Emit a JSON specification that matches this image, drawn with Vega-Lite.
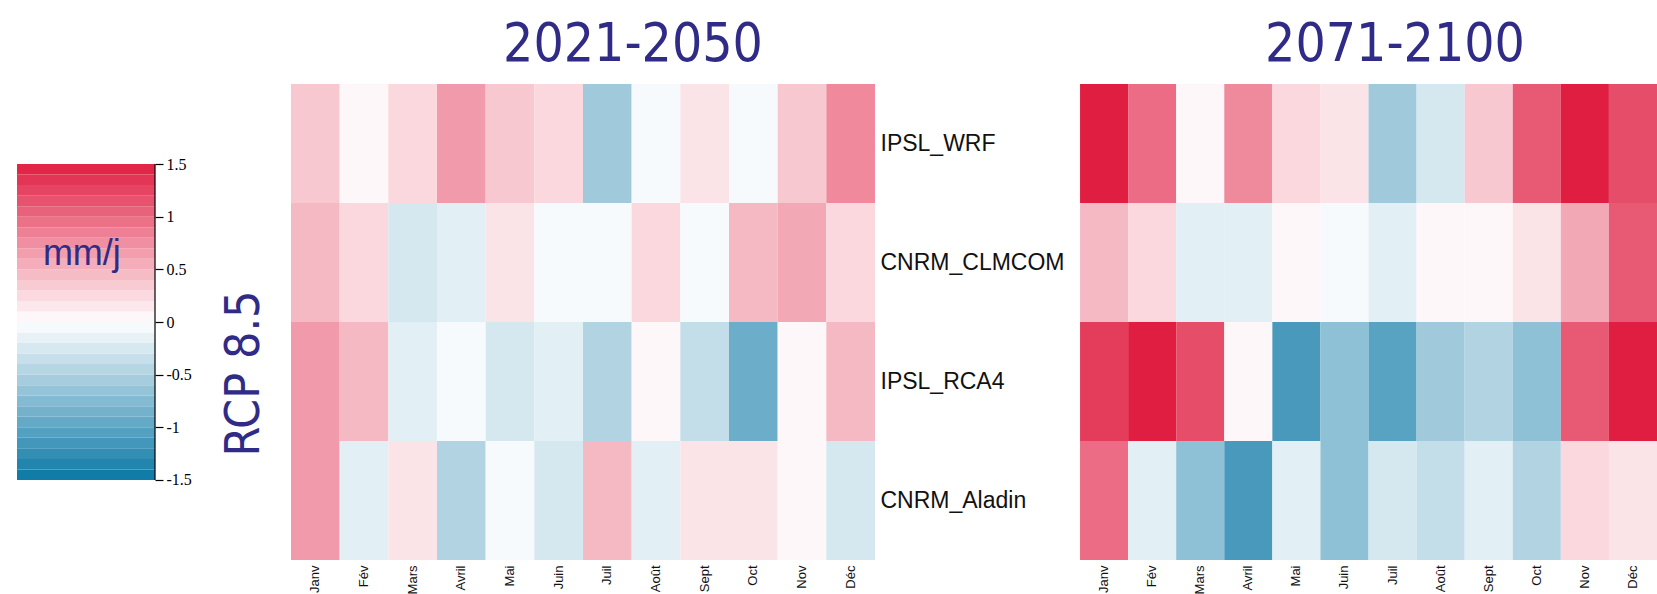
{
  "$schema": "https://vega.github.io/schema/vega-lite/v6.json",
  "autosize": {"type": "pad"},
  "padding": {"left": 17, "top": 19, "right": 0, "bottom": 0},
  "background": "#ffffff",
  "bounds": "flush",
  "spacing": 136,
  "datasets": {
    "bands": [
      {"lo": -1.5, "hi": -1.4, "mid": -1.45}, {"lo": -1.4, "hi": -1.3, "mid": -1.35}, {"lo": -1.3, "hi": -1.2, "mid": -1.25},
      {"lo": -1.2, "hi": -1.1, "mid": -1.15}, {"lo": -1.1, "hi": -1.0, "mid": -1.05}, {"lo": -1.0, "hi": -0.9, "mid": -0.95},
      {"lo": -0.9, "hi": -0.8, "mid": -0.85}, {"lo": -0.8, "hi": -0.7, "mid": -0.75}, {"lo": -0.7, "hi": -0.6, "mid": -0.65},
      {"lo": -0.6, "hi": -0.5, "mid": -0.55}, {"lo": -0.5, "hi": -0.4, "mid": -0.45}, {"lo": -0.4, "hi": -0.3, "mid": -0.35},
      {"lo": -0.3, "hi": -0.2, "mid": -0.25}, {"lo": -0.2, "hi": -0.1, "mid": -0.15}, {"lo": -0.1, "hi": 0.0, "mid": -0.05},
      {"lo": 0.0, "hi": 0.1, "mid": 0.05}, {"lo": 0.1, "hi": 0.2, "mid": 0.15}, {"lo": 0.2, "hi": 0.3, "mid": 0.25},
      {"lo": 0.3, "hi": 0.4, "mid": 0.35}, {"lo": 0.4, "hi": 0.5, "mid": 0.45}, {"lo": 0.5, "hi": 0.6, "mid": 0.55},
      {"lo": 0.6, "hi": 0.7, "mid": 0.65}, {"lo": 0.7, "hi": 0.8, "mid": 0.75}, {"lo": 0.8, "hi": 0.9, "mid": 0.85},
      {"lo": 0.9, "hi": 1.0, "mid": 0.95}, {"lo": 1.0, "hi": 1.1, "mid": 1.05}, {"lo": 1.1, "hi": 1.2, "mid": 1.15},
      {"lo": 1.2, "hi": 1.3, "mid": 1.25}, {"lo": 1.3, "hi": 1.4, "mid": 1.35}, {"lo": 1.4, "hi": 1.5, "mid": 1.45}
    ],
    "cells": [
      {"period": "2021-2050", "model": "IPSL_WRF", "month": "Janv", "value": 0.37},
      {"period": "2021-2050", "model": "IPSL_WRF", "month": "Fév", "value": 0.05},
      {"period": "2021-2050", "model": "IPSL_WRF", "month": "Mars", "value": 0.26},
      {"period": "2021-2050", "model": "IPSL_WRF", "month": "Avril", "value": 0.67},
      {"period": "2021-2050", "model": "IPSL_WRF", "month": "Mai", "value": 0.37},
      {"period": "2021-2050", "model": "IPSL_WRF", "month": "Juin", "value": 0.26},
      {"period": "2021-2050", "model": "IPSL_WRF", "month": "Juil", "value": -0.58},
      {"period": "2021-2050", "model": "IPSL_WRF", "month": "Août", "value": -0.05},
      {"period": "2021-2050", "model": "IPSL_WRF", "month": "Sept", "value": 0.18},
      {"period": "2021-2050", "model": "IPSL_WRF", "month": "Oct", "value": -0.05},
      {"period": "2021-2050", "model": "IPSL_WRF", "month": "Nov", "value": 0.37},
      {"period": "2021-2050", "model": "IPSL_WRF", "month": "Déc", "value": 0.79},
      {"period": "2021-2050", "model": "CNRM_CLMCOM", "month": "Janv", "value": 0.47},
      {"period": "2021-2050", "model": "CNRM_CLMCOM", "month": "Fév", "value": 0.26},
      {"period": "2021-2050", "model": "CNRM_CLMCOM", "month": "Mars", "value": -0.26},
      {"period": "2021-2050", "model": "CNRM_CLMCOM", "month": "Avril", "value": -0.18},
      {"period": "2021-2050", "model": "CNRM_CLMCOM", "month": "Mai", "value": 0.18},
      {"period": "2021-2050", "model": "CNRM_CLMCOM", "month": "Juin", "value": -0.05},
      {"period": "2021-2050", "model": "CNRM_CLMCOM", "month": "Juil", "value": -0.05},
      {"period": "2021-2050", "model": "CNRM_CLMCOM", "month": "Août", "value": 0.26},
      {"period": "2021-2050", "model": "CNRM_CLMCOM", "month": "Sept", "value": -0.05},
      {"period": "2021-2050", "model": "CNRM_CLMCOM", "month": "Oct", "value": 0.47},
      {"period": "2021-2050", "model": "CNRM_CLMCOM", "month": "Nov", "value": 0.58},
      {"period": "2021-2050", "model": "CNRM_CLMCOM", "month": "Déc", "value": 0.26},
      {"period": "2021-2050", "model": "IPSL_RCA4", "month": "Janv", "value": 0.67},
      {"period": "2021-2050", "model": "IPSL_RCA4", "month": "Fév", "value": 0.47},
      {"period": "2021-2050", "model": "IPSL_RCA4", "month": "Mars", "value": -0.18},
      {"period": "2021-2050", "model": "IPSL_RCA4", "month": "Avril", "value": -0.05},
      {"period": "2021-2050", "model": "IPSL_RCA4", "month": "Mai", "value": -0.26},
      {"period": "2021-2050", "model": "IPSL_RCA4", "month": "Juin", "value": -0.18},
      {"period": "2021-2050", "model": "IPSL_RCA4", "month": "Juil", "value": -0.48},
      {"period": "2021-2050", "model": "IPSL_RCA4", "month": "Août", "value": 0.05},
      {"period": "2021-2050", "model": "IPSL_RCA4", "month": "Sept", "value": -0.37},
      {"period": "2021-2050", "model": "IPSL_RCA4", "month": "Oct", "value": -0.9},
      {"period": "2021-2050", "model": "IPSL_RCA4", "month": "Nov", "value": 0.05},
      {"period": "2021-2050", "model": "IPSL_RCA4", "month": "Déc", "value": 0.47},
      {"period": "2021-2050", "model": "CNRM_Aladin", "month": "Janv", "value": 0.67},
      {"period": "2021-2050", "model": "CNRM_Aladin", "month": "Fév", "value": -0.18},
      {"period": "2021-2050", "model": "CNRM_Aladin", "month": "Mars", "value": 0.18},
      {"period": "2021-2050", "model": "CNRM_Aladin", "month": "Avril", "value": -0.48},
      {"period": "2021-2050", "model": "CNRM_Aladin", "month": "Mai", "value": -0.05},
      {"period": "2021-2050", "model": "CNRM_Aladin", "month": "Juin", "value": -0.26},
      {"period": "2021-2050", "model": "CNRM_Aladin", "month": "Juil", "value": 0.47},
      {"period": "2021-2050", "model": "CNRM_Aladin", "month": "Août", "value": -0.18},
      {"period": "2021-2050", "model": "CNRM_Aladin", "month": "Sept", "value": 0.18},
      {"period": "2021-2050", "model": "CNRM_Aladin", "month": "Oct", "value": 0.18},
      {"period": "2021-2050", "model": "CNRM_Aladin", "month": "Nov", "value": 0.05},
      {"period": "2021-2050", "model": "CNRM_Aladin", "month": "Déc", "value": -0.26},
      {"period": "2071-2100", "model": "IPSL_WRF", "month": "Janv", "value": 1.5},
      {"period": "2071-2100", "model": "IPSL_WRF", "month": "Fév", "value": 0.98},
      {"period": "2071-2100", "model": "IPSL_WRF", "month": "Mars", "value": 0.05},
      {"period": "2071-2100", "model": "IPSL_WRF", "month": "Avril", "value": 0.78},
      {"period": "2071-2100", "model": "IPSL_WRF", "month": "Mai", "value": 0.26},
      {"period": "2071-2100", "model": "IPSL_WRF", "month": "Juin", "value": 0.18},
      {"period": "2071-2100", "model": "IPSL_WRF", "month": "Juil", "value": -0.58},
      {"period": "2071-2100", "model": "IPSL_WRF", "month": "Août", "value": -0.26},
      {"period": "2071-2100", "model": "IPSL_WRF", "month": "Sept", "value": 0.37},
      {"period": "2071-2100", "model": "IPSL_WRF", "month": "Oct", "value": 1.1},
      {"period": "2071-2100", "model": "IPSL_WRF", "month": "Nov", "value": 1.5},
      {"period": "2071-2100", "model": "IPSL_WRF", "month": "Déc", "value": 1.19},
      {"period": "2071-2100", "model": "CNRM_CLMCOM", "month": "Janv", "value": 0.47},
      {"period": "2071-2100", "model": "CNRM_CLMCOM", "month": "Fév", "value": 0.26},
      {"period": "2071-2100", "model": "CNRM_CLMCOM", "month": "Mars", "value": -0.18},
      {"period": "2071-2100", "model": "CNRM_CLMCOM", "month": "Avril", "value": -0.18},
      {"period": "2071-2100", "model": "CNRM_CLMCOM", "month": "Mai", "value": 0.05},
      {"period": "2071-2100", "model": "CNRM_CLMCOM", "month": "Juin", "value": -0.05},
      {"period": "2071-2100", "model": "CNRM_CLMCOM", "month": "Juil", "value": -0.18},
      {"period": "2071-2100", "model": "CNRM_CLMCOM", "month": "Août", "value": 0.05},
      {"period": "2071-2100", "model": "CNRM_CLMCOM", "month": "Sept", "value": 0.05},
      {"period": "2071-2100", "model": "CNRM_CLMCOM", "month": "Oct", "value": 0.18},
      {"period": "2071-2100", "model": "CNRM_CLMCOM", "month": "Nov", "value": 0.58},
      {"period": "2071-2100", "model": "CNRM_CLMCOM", "month": "Déc", "value": 1.1},
      {"period": "2071-2100", "model": "IPSL_RCA4", "month": "Janv", "value": 1.3},
      {"period": "2071-2100", "model": "IPSL_RCA4", "month": "Fév", "value": 1.5},
      {"period": "2071-2100", "model": "IPSL_RCA4", "month": "Mars", "value": 1.19},
      {"period": "2071-2100", "model": "IPSL_RCA4", "month": "Avril", "value": 0.05},
      {"period": "2071-2100", "model": "IPSL_RCA4", "month": "Mai", "value": -1.12},
      {"period": "2071-2100", "model": "IPSL_RCA4", "month": "Juin", "value": -0.69},
      {"period": "2071-2100", "model": "IPSL_RCA4", "month": "Juil", "value": -1.02},
      {"period": "2071-2100", "model": "IPSL_RCA4", "month": "Août", "value": -0.58},
      {"period": "2071-2100", "model": "IPSL_RCA4", "month": "Sept", "value": -0.48},
      {"period": "2071-2100", "model": "IPSL_RCA4", "month": "Oct", "value": -0.69},
      {"period": "2071-2100", "model": "IPSL_RCA4", "month": "Nov", "value": 1.1},
      {"period": "2071-2100", "model": "IPSL_RCA4", "month": "Déc", "value": 1.5},
      {"period": "2071-2100", "model": "CNRM_Aladin", "month": "Janv", "value": 0.98},
      {"period": "2071-2100", "model": "CNRM_Aladin", "month": "Fév", "value": -0.18},
      {"period": "2071-2100", "model": "CNRM_Aladin", "month": "Mars", "value": -0.69},
      {"period": "2071-2100", "model": "CNRM_Aladin", "month": "Avril", "value": -1.12},
      {"period": "2071-2100", "model": "CNRM_Aladin", "month": "Mai", "value": -0.18},
      {"period": "2071-2100", "model": "CNRM_Aladin", "month": "Juin", "value": -0.69},
      {"period": "2071-2100", "model": "CNRM_Aladin", "month": "Juil", "value": -0.26},
      {"period": "2071-2100", "model": "CNRM_Aladin", "month": "Août", "value": -0.37},
      {"period": "2071-2100", "model": "CNRM_Aladin", "month": "Sept", "value": -0.18},
      {"period": "2071-2100", "model": "CNRM_Aladin", "month": "Oct", "value": -0.48},
      {"period": "2071-2100", "model": "CNRM_Aladin", "month": "Nov", "value": 0.26},
      {"period": "2071-2100", "model": "CNRM_Aladin", "month": "Déc", "value": 0.18}
    ]
  },
  "hconcat": [
    {
      "width": 138,
      "height": 476,
      "layer": [
        {
          "data": {"name": "bands"},
          "mark": {"type": "rect"},
          "encoding": {
            "x": {"datum": 0, "type": "quantitative", "scale": {"domain": [0, 1], "nice": false, "zero": false}, "axis": null},
            "x2": {"datum": 1},
            "y": {
              "field": "lo", "type": "quantitative",
              "scale": {"domain": [-2.26, 2.26], "nice": false, "zero": false},
              "axis": {
                "orient": "right", "values": [-1.5, -1, -0.5, 0, 0.5, 1, 1.5],
                "labelExpr": "datum.value", "grid": false, "domain": false,
                "ticks": true, "tickSize": 8, "tickColor": "#000000", "tickWidth": 1.2,
                "labelFont": "Liberation Serif", "labelFontSize": 16, "labelColor": "#000000", "labelPadding": 3,
                "title": "RCP 8.5", "titleAngle": 270, "titleFont": "DejaVu Sans Condensed, Roboto", "titleFontSize": 48,
                "titleFontWeight": "normal", "titleColor": "#2f2b86", "titleAlign": "center", "titleBaseline": "middle",
                "titleX": 89, "titleY": 289
              }
            },
            "y2": {"field": "hi"},
            "color": {
              "field": "mid", "type": "quantitative",
              "scale": {"type": "linear", "domain": [-1.5, 0, 1.5], "range": ["#0a77a5", "#ffffff", "#e01e42"], "interpolate": "rgb"},
              "legend": null
            }
          }
        },
        {
          "data": {"values": [{"a": -1.5, "b": 1.5}]},
          "mark": {"type": "rule", "color": "#000000", "strokeWidth": 1.2},
          "encoding": {
            "x": {"datum": 1, "type": "quantitative"},
            "y": {"field": "a", "type": "quantitative"},
            "y2": {"field": "b"}
          }
        },
        {
          "data": {"values": [{"unit": "mm/j", "v": 0.65}]},
          "mark": {"type": "text", "font": "Liberation Sans", "fontSize": 36, "color": "#2f2b86", "align": "center", "baseline": "middle"},
          "encoding": {
            "x": {"datum": 0.47, "type": "quantitative"},
            "y": {"field": "v", "type": "quantitative"},
            "text": {"field": "unit"}
          }
        }
      ]
    },
    {
      "data": {"name": "cells"},
      "width": 584,
      "height": 476,
      "title": {"text": "2021-2050", "dx": 50},
      "transform": [{"filter": "datum.period === '2021-2050'"}],
      "mark": {"type": "rect"},
      "encoding": {
        "x": {
          "field": "month", "type": "ordinal",
          "sort": ["Janv", "Fév", "Mars", "Avril", "Mai", "Juin", "Juil", "Août", "Sept", "Oct", "Nov", "Déc"],
          "scale": {"paddingInner": 0, "paddingOuter": 0},
          "axis": {"title": null, "labelAngle": 270, "labelAlign": "right", "labelBaseline": "middle", "ticks": false, "domain": false, "labelFont": "Liberation Sans", "labelFontSize": 13, "labelColor": "#111111", "labelPadding": 5}
        },
        "y": {
          "field": "model", "type": "nominal",
          "sort": ["IPSL_WRF", "CNRM_CLMCOM", "IPSL_RCA4", "CNRM_Aladin"],
          "scale": {"paddingInner": 0, "paddingOuter": 0},
          "axis": {"orient": "right", "title": null, "ticks": false, "domain": false, "labelFont": "Liberation Sans", "labelFontSize": 23, "labelColor": "#111111", "labelPadding": 5, "labelLimit": 400}
        },
        "color": {
          "field": "value", "type": "quantitative",
          "scale": {"type": "linear", "domain": [-1.5, 0, 1.5], "range": ["#0a77a5", "#ffffff", "#e01e42"], "interpolate": "rgb"},
          "legend": null
        }
      }
    },
    {
      "data": {"name": "cells"},
      "width": 646,
      "height": 476,
      "title": {"text": "2071-2100", "dx": 61},
      "transform": [{"filter": "datum.period === '2071-2100'"}],
      "mark": {"type": "rect"},
      "encoding": {
        "x": {
          "field": "month", "type": "ordinal",
          "sort": ["Janv", "Fév", "Mars", "Avril", "Mai", "Juin", "Juil", "Août", "Sept", "Oct", "Nov", "Déc"],
          "scale": {"paddingInner": 0, "paddingOuter": 0.718, "align": 1},
          "axis": {"title": null, "labelAngle": 270, "labelAlign": "right", "labelBaseline": "middle", "ticks": false, "domain": false, "labelFont": "Liberation Sans", "labelFontSize": 13, "labelColor": "#111111", "labelPadding": 5}
        },
        "y": {
          "field": "model", "type": "nominal",
          "sort": ["IPSL_WRF", "CNRM_CLMCOM", "IPSL_RCA4", "CNRM_Aladin"],
          "scale": {"paddingInner": 0, "paddingOuter": 0},
          "axis": null
        },
        "color": {
          "field": "value", "type": "quantitative",
          "scale": {"type": "linear", "domain": [-1.5, 0, 1.5], "range": ["#0a77a5", "#ffffff", "#e01e42"], "interpolate": "rgb"},
          "legend": null
        }
      }
    }
  ],
  "resolve": {"scale": {"color": "shared"}},
  "config": {
    "view": {"stroke": null},
    "axis": {"grid": false},
    "title": {"font": "DejaVu Sans Condensed, Roboto", "fontSize": 53, "fontWeight": "normal", "color": "#2f2b86", "anchor": "middle", "baseline": "alphabetic", "offset": 12}
  }
}
